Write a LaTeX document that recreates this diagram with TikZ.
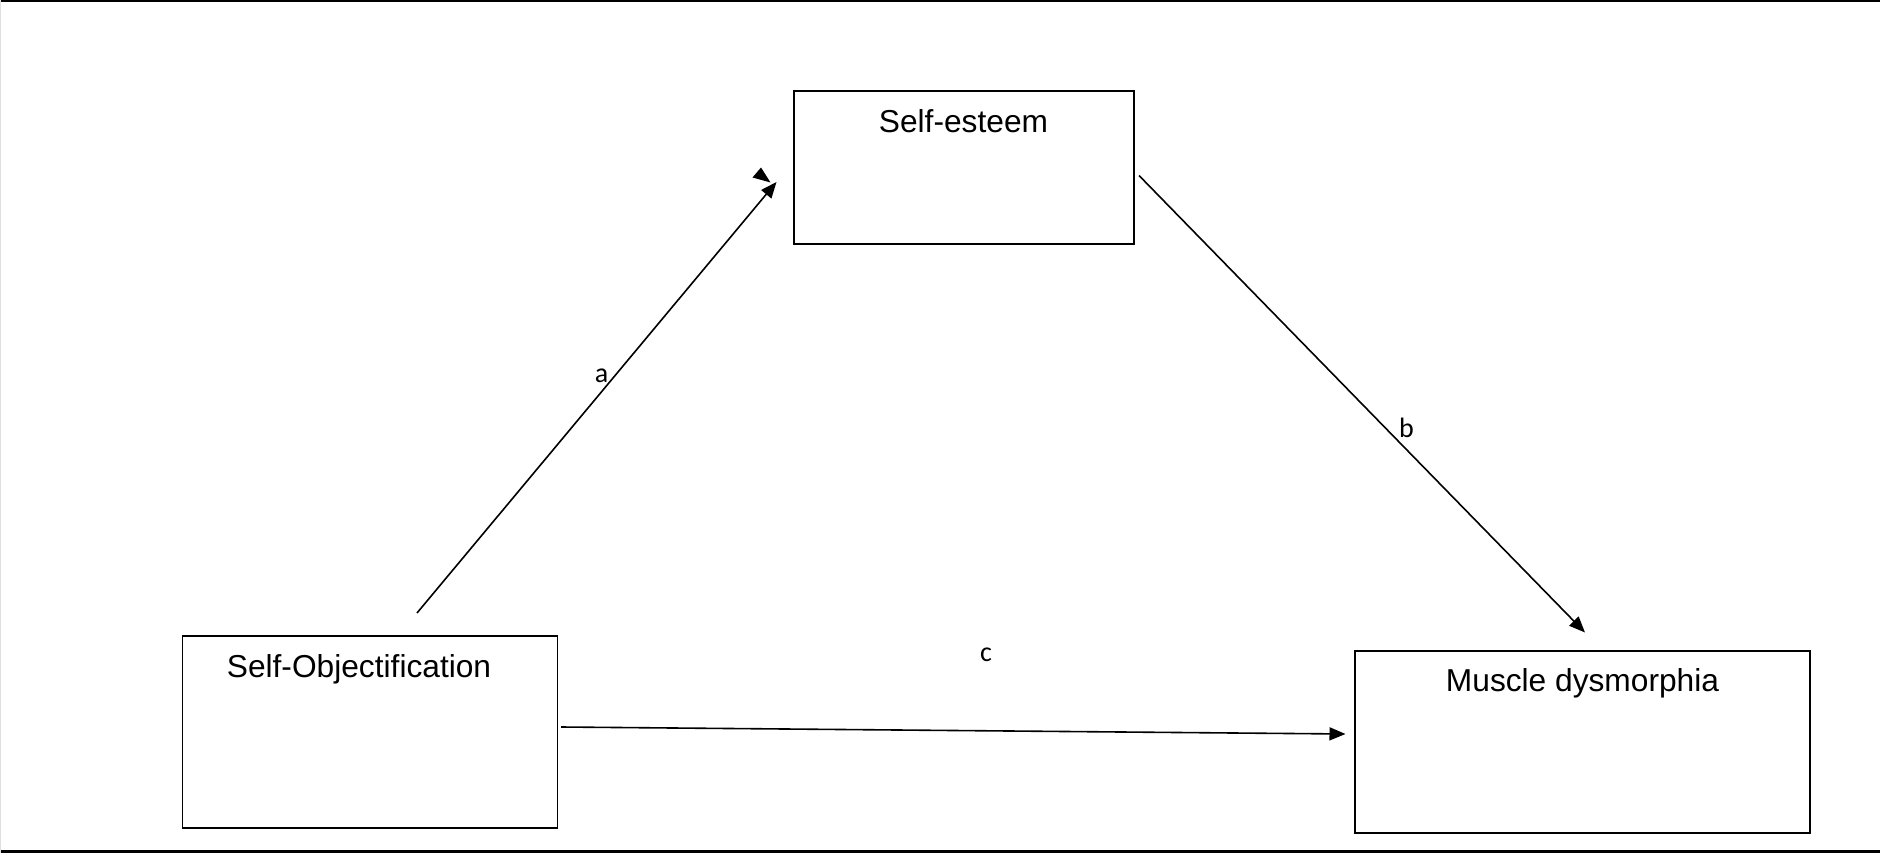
\documentclass[tikz,border=0pt]{standalone}
\usepackage{fontspec}
\setmainfont{Liberation Sans}
\newfontfamily\lblfont{Carlito}
\usetikzlibrary{arrows.meta}
\tikzset{
  box/.style={draw=black, line width=1.7pt, fill=none, inner sep=0pt},
  boxtext/.style={font=\fontsize{31.7}{36}\selectfont, anchor=base, inner sep=0pt},
  lbl/.style={font=\lblfont\fontsize{28}{32}\selectfont, inner sep=0pt},
  conn/.style={draw=black, line width=1.6pt, -{Triangle[length=16pt,width=13pt]}},
}
\begin{document}
\begin{tikzpicture}[x=1pt,y=-1pt]
\useasboundingbox (0,0) rectangle (1880,853);
\fill[white] (0,0) rectangle (1880,853);
% page frame lines
\draw[line width=2.5pt] (0,1.2) -- (1880,1.2);
\draw[line width=3pt] (0,851.3) -- (1880,851.3);
\draw[gray!25, line width=1.2pt] (0.6,0) -- (0.6,853);
% boxes
\node[box, minimum width=340pt, minimum height=153pt] (se) at (964,167.5) {};
\node[boxtext] (setxt) at (963.5,132.5) {Self-esteem};
\node[box, minimum width=375pt, minimum height=192pt] (so) at (370,732) {};
\node[boxtext] (sotxt) at (359,677) {Self-Objectification};
\node[box, minimum width=455pt, minimum height=182pt] (md) at (1582.5,742) {};
\node[boxtext] (mdtxt) at (1582.5,691.5) {Muscle dysmorphia};
% connector end points
\coordinate (a0) at (417,613);
\coordinate (a1) at (776.5,182);
\coordinate (b0) at (1139,175.5);
\coordinate (b1) at (1585,632.5);
\coordinate (c0) at (561,727);
\coordinate (c1) at (1345.5,734);
\draw[conn] (a0) -- (a1);
\draw[conn] (b0) -- (b1);
\draw[conn] (c0) -- (c1);
% stray arrowhead
\fill[black] (761,167.5) -- (752.5,177.5) -- (770.5,182.5) -- cycle;
% labels
\node[lbl] (la) at (601.5,376) {a};
\node[lbl] (lb) at (1406.5,428) {b};
\node[lbl] (lc) at (986,655) {c};
\end{tikzpicture}
\end{document}
